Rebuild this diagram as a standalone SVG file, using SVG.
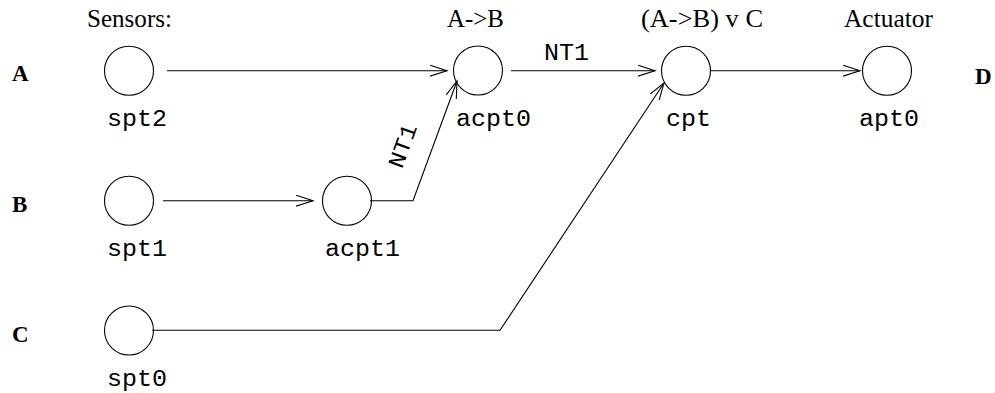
<svg xmlns="http://www.w3.org/2000/svg" width="995" height="393" viewBox="0 0 995 393">
<style>
.n{fill:none;stroke:#000;stroke-width:1.1}
.e{fill:none;stroke:#000;stroke-width:1.1}
.t{font-family:"Liberation Serif","Times New Roman",serif;font-size:25.5px;fill:#000}
.b{font-family:"Liberation Serif","Times New Roman",serif;font-size:23px;font-weight:bold;fill:#000}
.m{font-family:"Liberation Mono","Courier New",monospace;font-size:23px;fill:#000}
</style>
<defs>
<marker id="ar" markerUnits="userSpaceOnUse" markerWidth="20" markerHeight="14" refX="17" refY="6" orient="auto">
<path d="M0,0.5 L17,6 L0,11.5" fill="none" stroke="#000" stroke-width="1.1"/>
</marker>
</defs>
<rect width="995" height="393" fill="#fff"/>
<g id="headers">
<text class="t" x="87" y="27" textLength="85" lengthAdjust="spacingAndGlyphs">Sensors:</text>
<text class="t" x="447" y="26.5" textLength="57" lengthAdjust="spacingAndGlyphs">A-&gt;B</text>
<text class="t" x="641" y="26.5" textLength="122" lengthAdjust="spacingAndGlyphs">(A-&gt;B) v C</text>
<text class="t" x="844" y="26.5" textLength="89" lengthAdjust="spacingAndGlyphs">Actuator</text>
<text class="b" x="12" y="81">A</text>
<text class="b" x="12" y="212">B</text>
<text class="b" x="12" y="342">C</text>
<text class="b" x="975" y="84">D</text>
</g>
<g id="edges">
<line class="e" x1="167" y1="70.7" x2="447" y2="70.7" marker-end="url(#ar)"/>
<line class="e" x1="163" y1="200.7" x2="313" y2="200.7" marker-end="url(#ar)"/>
<polyline class="e" points="370,200.7 413,200.7 457,81" marker-end="url(#ar)"/>
<line class="e" x1="511" y1="70.7" x2="655" y2="70.7" marker-end="url(#ar)"/>
<polyline class="e" points="152,330.3 500,330.3 664,83" marker-end="url(#ar)"/>
<line class="e" x1="711" y1="70.7" x2="860" y2="70.7" marker-end="url(#ar)"/>
<text class="m" x="544" y="60" textLength="45" lengthAdjust="spacingAndGlyphs">NT1</text>
<text class="m" transform="translate(403,146) rotate(-70)" x="-22.5" y="7" textLength="45" lengthAdjust="spacingAndGlyphs">NT1</text>
</g>
<g id="spt2"><circle class="n" cx="129" cy="70.7" r="24.5"/><text class="m" x="107" y="126" textLength="60" lengthAdjust="spacingAndGlyphs">spt2</text></g>
<g id="spt1"><circle class="n" cx="129" cy="200.7" r="24.5"/><text class="m" x="107" y="256" textLength="60" lengthAdjust="spacingAndGlyphs">spt1</text></g>
<g id="spt0"><circle class="n" cx="129" cy="330.5" r="24.5"/><text class="m" x="107" y="386" textLength="60" lengthAdjust="spacingAndGlyphs">spt0</text></g>
<g id="acpt1"><circle class="n" cx="347" cy="200.7" r="24.5"/><text class="m" x="325" y="256" textLength="75" lengthAdjust="spacingAndGlyphs">acpt1</text></g>
<g id="acpt0"><circle class="n" cx="478" cy="70.5" r="24.5"/><text class="m" x="456" y="126" textLength="75" lengthAdjust="spacingAndGlyphs">acpt0</text></g>
<g id="cpt"><circle class="n" cx="686" cy="70.7" r="24.5"/><text class="m" x="666" y="126" textLength="45" lengthAdjust="spacingAndGlyphs">cpt</text></g>
<g id="apt0"><circle class="n" cx="887" cy="70.7" r="24.5"/><text class="m" x="859" y="126" textLength="60" lengthAdjust="spacingAndGlyphs">apt0</text></g>
</svg>
